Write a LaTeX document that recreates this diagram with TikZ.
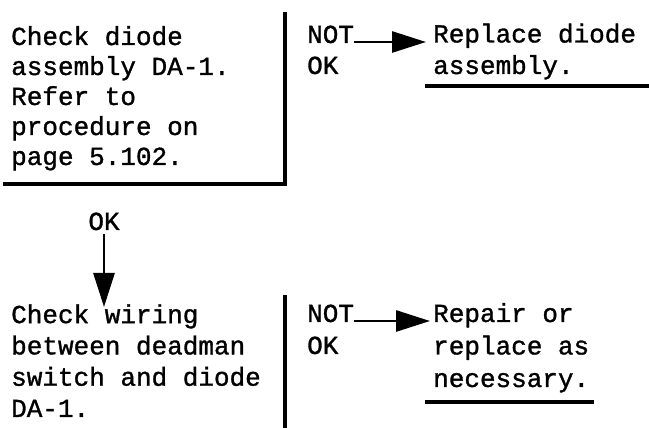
\documentclass[tikz,border=0pt]{standalone}
\usepackage{fontspec}
\setmonofont[FakeBold=1.2]{Liberation Mono}
\usetikzlibrary{arrows.meta,positioning}

\begin{document}
\begin{tikzpicture}[x=1pt,y=1pt,
txt/.style={inner sep=0pt,anchor=base west,align=left,font=\ttfamily\fontsize{26}{#1}\selectfont},
txt/.default=30,
arr/.style={-{Triangle[length=34pt,width=21pt]},line width=2.8pt},
rule/.style={line width=3.2pt}]
\useasboundingbox (0,0) rectangle (649,428);
\node[txt] (chk1) at (11,263) {Check diode\\assembly DA-1.\\Refer to\\procedure on\\page 5.102.};
\node[txt] (not1) at (307,385) {NOT};
\node[txt] (nok1) at (307,354) {OK};
\node[txt=31.5] (rep1) at (433,354) {Replace diode\\assembly.};
\node[txt,anchor=base] (ok) at (104,198) {OK};
\node[txt=31.3] (chk2) at (11,11) {Check wiring\\between deadman\\switch and diode\\DA-1.};
\node[txt] (not2) at (307,106) {NOT};
\node[txt] (nok2) at (307,74) {OK};
\node[txt=32.5] (rep2) at (433,41) {Repair or\\replace as\\necessary.};
\coordinate (c1) at (285,416);
\coordinate (c2) at (285,133);
\draw[rule] (c1) |- (3,244);
\draw[rule] (c2) -- (285,0);
\draw[rule] (425,342) -- (649,342);
\draw[rule] (425,26) -- (594,26);
\draw[arr] ([yshift=1pt]not1.base east) -- ([yshift=1pt,xshift=-7pt]not1.base east -| rep1.west);
\draw[arr] ([yshift=1pt]not2.base east) -- ([yshift=1pt,xshift=-3pt]not2.base east -| rep2.west);
\draw[arr] ([yshift=-4pt]ok.south) -- (104,121);
\end{tikzpicture}
\end{document}
